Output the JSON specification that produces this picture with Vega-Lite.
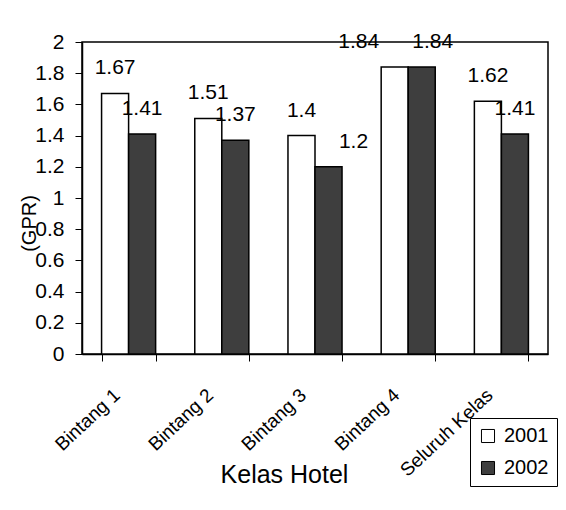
{
  "$schema": "https://vega.github.io/schema/vega-lite/v6.json",
  "width": 466,
  "height": 312,
  "autosize": "none",
  "padding": {"left": 82, "top": 42, "right": 18, "bottom": 156},
  "background": "white",
  "config": {
    "font": "Liberation Sans",
    "view": {"stroke": "black", "strokeWidth": 1.5},
    "axis": {"domainColor": "black", "tickColor": "black", "labelColor": "black", "titleColor": "black", "grid": false, "titleFontWeight": "normal"}
  },
  "data": {
    "values": [
      {"kelas": "Bintang 1", "tahun": "2001", "gpr": 1.67},
      {"kelas": "Bintang 1", "tahun": "2002", "gpr": 1.41},
      {"kelas": "Bintang 2", "tahun": "2001", "gpr": 1.51},
      {"kelas": "Bintang 2", "tahun": "2002", "gpr": 1.37},
      {"kelas": "Bintang 3", "tahun": "2001", "gpr": 1.4},
      {"kelas": "Bintang 3", "tahun": "2002", "gpr": 1.2},
      {"kelas": "Bintang 4", "tahun": "2001", "gpr": 1.84},
      {"kelas": "Bintang 4", "tahun": "2002", "gpr": 1.84},
      {"kelas": "Seluruh Kelas", "tahun": "2001", "gpr": 1.62},
      {"kelas": "Seluruh Kelas", "tahun": "2002", "gpr": 1.41}
    ]
  },
  "encoding": {
    "x": {
      "field": "kelas", "type": "nominal", "sort": null,
      "scale": {"paddingInner": 0.42, "paddingOuter": 0.21},
      "axis": {
        "title": "Kelas Hotel", "titleFontSize": 25, "titleX": 202, "titleY": 120, "titleBaseline": "middle",
        "labelAngle": -43, "labelFontSize": 19, "labelAlign": "right", "labelBaseline": "middle", "labelPadding": 31, "labelOffset": -12,
        "tickBand": "extent", "tickSize": 7, "domainWidth": 1.5
      }
    },
    "xOffset": {"field": "tahun", "type": "nominal"},
    "y": {
      "field": "gpr", "type": "quantitative",
      "scale": {"domain": [0, 2]},
      "axis": {
        "title": "(GPR)", "titleFontSize": 20, "titleX": -53, "titleY": 181, "titleAlign": "center", "titleBaseline": "middle",
        "values": [0, 0.2, 0.4, 0.6, 0.8, 1, 1.2, 1.4, 1.6, 1.8, 2], "format": "~g", "labelOverlap": false,
        "labelFontSize": 21, "tickSize": 7, "labelPadding": 11, "domainWidth": 1.5
      }
    }
  },
  "layer": [
    {
      "mark": {"type": "bar", "stroke": "black", "strokeWidth": 1.5},
      "encoding": {
        "fill": {
          "field": "tahun", "type": "nominal",
          "scale": {"domain": ["2001", "2002"], "range": ["white", "#3e3e3e"]},
          "legend": {
            "title": null, "orient": "none", "legendX": 388, "legendY": 376,
            "symbolType": "square", "symbolSize": 170, "symbolStrokeColor": "black", "symbolStrokeWidth": 1,
            "labelFontSize": 20, "labelColor": "black", "rowPadding": 12, "padding": 8, "labelOffset": 6,
            "strokeColor": "black", "fillColor": "white"
          }
        }
      }
    },
    {
      "transform": [{"filter": "!(datum.kelas == 'Bintang 4') && !(datum.kelas == 'Bintang 3' && datum.tahun == '2002')"}],
      "mark": {"type": "text", "fontSize": 21, "color": "black", "baseline": "alphabetic", "dy": -19},
      "encoding": {"text": {"field": "gpr", "type": "quantitative"}}
    },
    {
      "transform": [{"filter": "datum.kelas == 'Bintang 3' && datum.tahun == '2002'"}],
      "mark": {"type": "text", "fontSize": 21, "color": "black", "baseline": "alphabetic", "dy": -19, "dx": 25},
      "encoding": {"text": {"field": "gpr", "type": "quantitative"}}
    },
    {
      "transform": [{"filter": "datum.kelas == 'Bintang 4' && datum.tahun == '2001'"}],
      "mark": {"type": "text", "fontSize": 21, "color": "black", "baseline": "alphabetic", "dy": -19, "dx": -36},
      "encoding": {"text": {"field": "gpr", "type": "quantitative"}}
    },
    {
      "transform": [{"filter": "datum.kelas == 'Bintang 4' && datum.tahun == '2002'"}],
      "mark": {"type": "text", "fontSize": 21, "color": "black", "baseline": "alphabetic", "dy": -19, "dx": 11},
      "encoding": {"text": {"field": "gpr", "type": "quantitative"}}
    }
  ]
}
